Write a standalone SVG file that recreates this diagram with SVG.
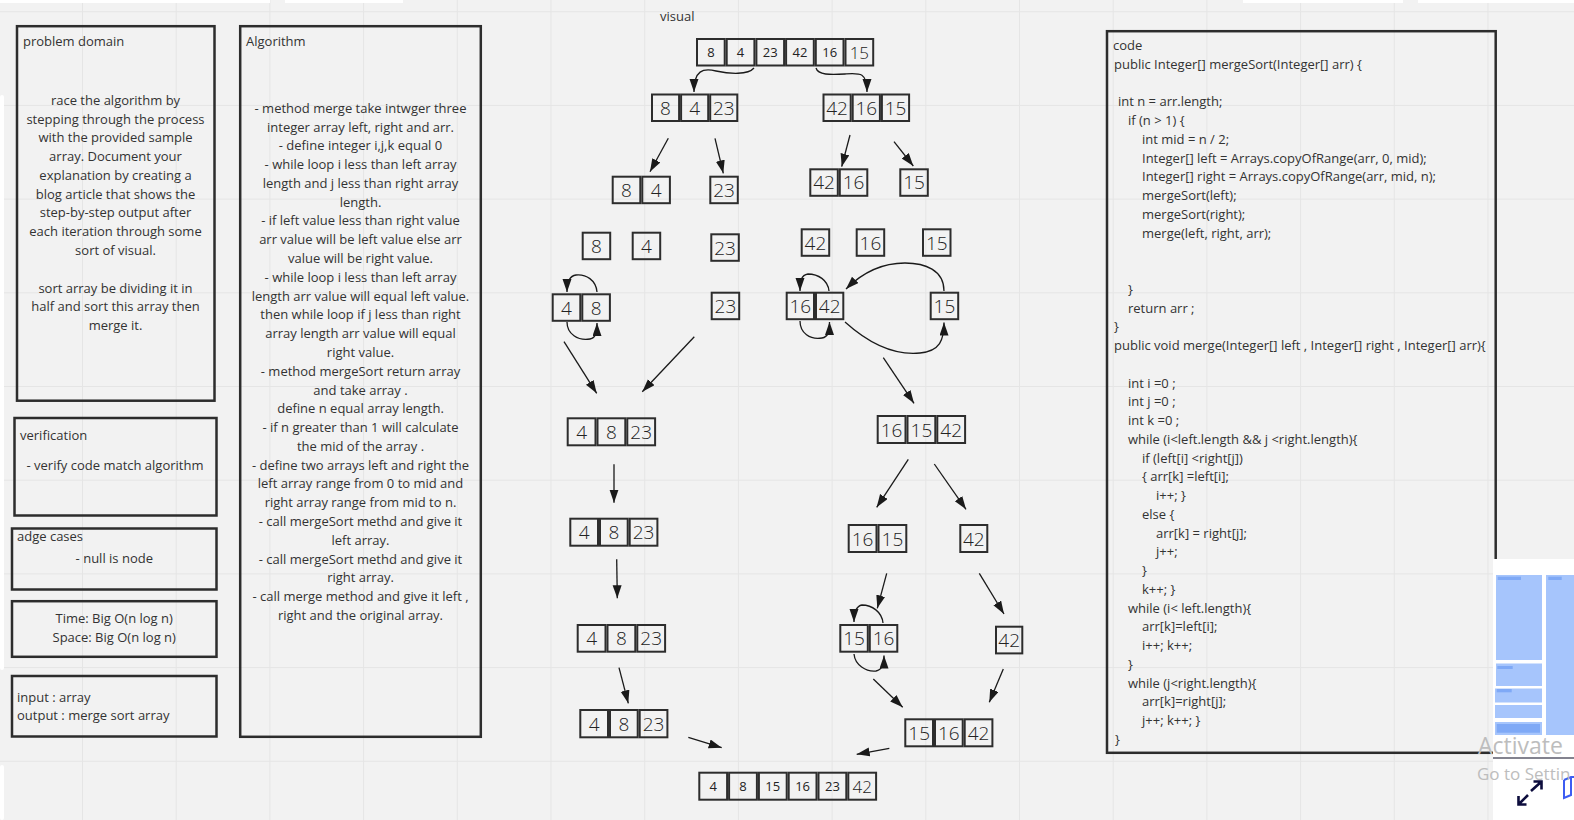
<svg xmlns="http://www.w3.org/2000/svg" width="1574" height="820" viewBox="0 0 1574 820">
<style>
.bg{fill:#f2f2f2}
.grid{fill:none;stroke:#e5e5e5;stroke-width:1}
.box{fill:none;stroke:#2d2d2d;stroke-width:2.5}
.cell{fill:none;stroke:#2d2d2d;stroke-width:2}
.t{font-family:"Open Sans","Liberation Sans",sans-serif;font-size:13px;fill:#333}
.c{text-anchor:middle}
.n{font-family:"Open Sans","Liberation Sans",sans-serif;font-size:19px;font-weight:300;fill:#222;text-anchor:middle;dominant-baseline:central}
.ns{font-size:13px;font-weight:400}
.nm{font-size:17px}
.arr{fill:none;stroke:#1a1a1a;stroke-width:1.3;marker-end:url(#ah)}
.mm{fill:#a6c5fc}
.mb{fill:#7fa9f6}
.wm{font-family:"Open Sans","Liberation Sans",sans-serif;fill:#bdbdbd}
</style>
<defs>
<marker id="ah" markerUnits="userSpaceOnUse" markerWidth="14" markerHeight="10" refX="13" refY="4.5" orient="auto">
<path d="M0,0 L13,4.5 L0,9 Z" fill="#1a1a1a"/>
</marker>
</defs>
<rect class="bg" x="0" y="0" width="1574" height="820"/>
<path class="grid" d="M82.5 0V820M176.2 0V820M269.9 0V820M363.6 0V820M457.3 0V820M551 0V820M644.7 0V820M738.4 0V820M832.1 0V820M925.8 0V820M1019.5 0V820M1113.2 0V820M1206.9 0V820M1300.6 0V820M1394.3 0V820M1488 0V820M0 11.7H1574M0 105.4H1574M0 199.1H1574M0 292.8H1574M0 386.5H1574M0 480.2H1574M0 573.9H1574M0 667.6H1574M0 761.3H1574"/>
<g id="ui-strips" fill="#ffffff">
<rect x="0" y="0" width="270" height="3"/>
<rect x="285" y="0" width="118" height="3"/>
<rect x="1243" y="0" width="160" height="3"/>
<rect x="1418" y="0" width="156" height="3"/>
<rect x="0" y="95" width="4" height="575" rx="2"/>
<rect x="0" y="765" width="4" height="55" rx="2"/>
</g>

<g id="problem-domain">
<rect class="box" x="17" y="26.2" width="197.5" height="374.5"/>
<text class="t" x="23" y="46">problem domain</text>
<text class="t c" x="115.5" y="104.8"><tspan x="115.5">race the algorithm by</tspan><tspan x="115.5" dy="18.78">stepping through the process</tspan><tspan x="115.5" dy="18.78">with the provided sample</tspan><tspan x="115.5" dy="18.78">array. Document your</tspan><tspan x="115.5" dy="18.78">explanation by creating a</tspan><tspan x="115.5" dy="18.78">blog article that shows the</tspan><tspan x="115.5" dy="18.78">step-by-step output after</tspan><tspan x="115.5" dy="18.78">each iteration through some</tspan><tspan x="115.5" dy="18.78">sort of visual.</tspan><tspan x="115.5" dy="37.56">sort array be dividing it in</tspan><tspan x="115.5" dy="18.78">half and sort this array then</tspan><tspan x="115.5" dy="18.78">merge it.</tspan></text>
</g>

<g id="algorithm">
<rect class="box" x="240.2" y="26.2" width="240.6" height="710.6"/>
<text class="t" x="246" y="46">Algorithm</text>
<text class="t c" x="360.5" y="112.8"><tspan x="360.5">- method merge take intwger three</tspan><tspan x="360.5" dy="18.78">integer array left, right and arr.</tspan><tspan x="360.5" dy="18.78">- define integer i,j,k equal 0</tspan><tspan x="360.5" dy="18.78">- while loop i less than left array</tspan><tspan x="360.5" dy="18.78">length and j less than right array</tspan><tspan x="360.5" dy="18.78">length.</tspan><tspan x="360.5" dy="18.78">- if left value less than right value</tspan><tspan x="360.5" dy="18.78">arr value will be left value else arr</tspan><tspan x="360.5" dy="18.78">value will be right value.</tspan><tspan x="360.5" dy="18.78">- while loop i less than left array</tspan><tspan x="360.5" dy="18.78">length arr value will equal left value.</tspan><tspan x="360.5" dy="18.78">then while loop if j less than right</tspan><tspan x="360.5" dy="18.78">array length arr value will equal</tspan><tspan x="360.5" dy="18.78">right value.</tspan><tspan x="360.5" dy="18.78">- method mergeSort return array</tspan><tspan x="360.5" dy="18.78">and take array .</tspan><tspan x="360.5" dy="18.78">define n equal array length.</tspan><tspan x="360.5" dy="18.78">- if n greater than 1 will calculate</tspan><tspan x="360.5" dy="18.78">the mid of the array .</tspan><tspan x="360.5" dy="18.78">- define two arrays left and right the</tspan><tspan x="360.5" dy="18.78">left array range from 0 to mid and</tspan><tspan x="360.5" dy="18.78">right array range from mid to n.</tspan><tspan x="360.5" dy="18.78">- call mergeSort methd and give it</tspan><tspan x="360.5" dy="18.78">left array.</tspan><tspan x="360.5" dy="18.78">- call mergeSort methd and give it</tspan><tspan x="360.5" dy="18.78">right array.</tspan><tspan x="360.5" dy="18.78">- call merge method and give it left ,</tspan><tspan x="360.5" dy="18.78">right and the original array.</tspan></text>
</g>

<g id="verification">
<rect class="box" x="14.5" y="418" width="202" height="97.5"/>
<text class="t" x="20" y="439.5">verification</text>
<text class="t c" x="115" y="469.5">- verify code match algorithm</text>
</g>

<g id="edge-cases">
<rect class="box" x="12" y="528.5" width="204.5" height="61"/>
<text class="t" x="17" y="541">adge cases</text>
<text class="t c" x="114.3" y="563">- null is node</text>
</g>

<g id="complexity">
<rect class="box" x="12" y="601.2" width="204.5" height="55.6"/>
<text class="t c" x="114.2" y="622.8" fill="#444"><tspan x="114.2">Time: Big O(n log n)</tspan><tspan x="114.2" dy="19">Space: Big O(n log n)</tspan></text>
</g>

<g id="input-output">
<rect class="box" x="12" y="676" width="204.5" height="60.5"/>
<text class="t" x="17" y="701.8"><tspan x="17">input : array</tspan><tspan x="17" dy="18.4">output : merge sort array</tspan></text>
</g>

<g id="code">
<rect class="box" x="1107" y="31.2" width="388.7" height="721.6"/>
<text class="t" y="50.2"><tspan x="1113">code</tspan><tspan x="1114" dy="18.75">public Integer[] mergeSort(Integer[] arr) {</tspan><tspan x="1118" dy="37.5">int n = arr.length;</tspan><tspan x="1128" dy="18.75">if (n &gt; 1) {</tspan><tspan x="1142" dy="18.75">int mid = n / 2;</tspan><tspan x="1142" dy="18.75">Integer[] left = Arrays.copyOfRange(arr, 0, mid);</tspan><tspan x="1142" dy="18.75">Integer[] right = Arrays.copyOfRange(arr, mid, n);</tspan><tspan x="1142" dy="18.75">mergeSort(left);</tspan><tspan x="1142" dy="18.75">mergeSort(right);</tspan><tspan x="1142" dy="18.75">merge(left, right, arr);</tspan><tspan x="1128" dy="56.25">}</tspan><tspan x="1128" dy="18.75">return arr ;</tspan><tspan x="1114" dy="18.75">}</tspan><tspan x="1114" dy="18.75">public void merge(Integer[] left , Integer[] right , Integer[] arr){</tspan><tspan x="1128" dy="37.5">int i =0 ;</tspan><tspan x="1128" dy="18.75">int j =0 ;</tspan><tspan x="1128" dy="18.75">int k =0 ;</tspan><tspan x="1128" dy="18.75">while (i&lt;left.length &amp;&amp; j &lt;right.length){</tspan><tspan x="1142" dy="18.75">if (left[i] &lt;right[j])</tspan><tspan x="1142" dy="18.75">{ arr[k] =left[i];</tspan><tspan x="1156" dy="18.75">i++; }</tspan><tspan x="1142" dy="18.75">else {</tspan><tspan x="1156" dy="18.75">arr[k] = right[j];</tspan><tspan x="1156" dy="18.75">j++;</tspan><tspan x="1142" dy="18.75">}</tspan><tspan x="1142" dy="18.75">k++; }</tspan><tspan x="1128" dy="18.75">while (i&lt; left.length){</tspan><tspan x="1142" dy="18.75">arr[k]=left[i];</tspan><tspan x="1142" dy="18.75">i++; k++;</tspan><tspan x="1128" dy="18.75">}</tspan><tspan x="1128" dy="18.75">while (j&lt;right.length){</tspan><tspan x="1142" dy="18.75">arr[k]=right[j];</tspan><tspan x="1142" dy="18.75">j++; k++; }</tspan><tspan x="1115" dy="18.75">}</tspan></text>
</g>

<g id="visual-label"><text class="t" x="660" y="20.5">visual</text></g>

<g id="arr-top" transform="translate(696,38)">
<rect class="cell" x="1" y="1" width="27.7" height="26.5"/><rect class="cell" x="30.7" y="1" width="27.7" height="26.5"/><rect class="cell" x="60.4" y="1" width="27.7" height="26.5"/><rect class="cell" x="90.1" y="1" width="27.7" height="26.5"/><rect class="cell" x="119.8" y="1" width="27.7" height="26.5"/><rect class="cell" x="149.5" y="1" width="27.7" height="26.5"/>
<text class="n ns" x="14.85" y="14.2">8</text><text class="n ns" x="44.55" y="14.2">4</text><text class="n ns" x="74.25" y="14.2">23</text><text class="n ns" x="103.95" y="14.2">42</text><text class="n ns" x="133.65" y="14.2">16</text><text class="n nm" x="163.35" y="14.2">15</text>
</g>

<g id="arr-l1" transform="translate(651,93.5)">
<rect class="cell" x="1" y="1" width="27.1" height="26.5"/><rect class="cell" x="30.1" y="1" width="27.1" height="26.5"/><rect class="cell" x="59.2" y="1" width="27.1" height="26.5"/>
<text class="n" x="14.55" y="14.25">8</text><text class="n" x="43.65" y="14.25">4</text><text class="n" x="72.75" y="14.25">23</text>
</g>
<g id="arr-r1" transform="translate(822.5,93.5)">
<rect class="cell" x="1" y="1" width="27.2" height="26.5"/><rect class="cell" x="30.2" y="1" width="27.2" height="26.5"/><rect class="cell" x="59.4" y="1" width="27.2" height="26.5"/>
<text class="n" x="14.6" y="14.25">42</text><text class="n" x="43.8" y="14.25">16</text><text class="n" x="73" y="14.25">15</text>
</g>

<g id="arr-l2a" transform="translate(611.7,175.7)">
<rect class="cell" x="1" y="1" width="27.6" height="26.5"/><rect class="cell" x="30.6" y="1" width="27.6" height="26.5"/>
<text class="n" x="14.8" y="14.3">8</text><text class="n" x="44.4" y="14.3">4</text>
</g>
<g id="arr-l2b" transform="translate(709.3,175.7)">
<rect class="cell" x="1" y="1" width="27.5" height="26.5"/><text class="n" x="14.75" y="14.3">23</text>
</g>
<g id="arr-r2a" transform="translate(809.3,168.3)">
<rect class="cell" x="1" y="1" width="27.5" height="26.5"/><rect class="cell" x="30.5" y="1" width="27.5" height="26.5"/>
<text class="n" x="14.75" y="14.2">42</text><text class="n" x="44.25" y="14.2">16</text>
</g>
<g id="arr-r2b" transform="translate(899.3,168.3)">
<rect class="cell" x="1" y="1" width="27.5" height="26.5"/><text class="n" x="14.75" y="14.2">15</text>
</g>

<g id="leaf-8" transform="translate(581.7,231.7)"><rect class="cell" x="1" y="1" width="27.5" height="26.5"/><text class="n" x="14.75" y="14.3">8</text></g>
<g id="leaf-4" transform="translate(631.7,231.7)"><rect class="cell" x="1" y="1" width="27.5" height="26.5"/><text class="n" x="14.75" y="14.3">4</text></g>
<g id="leaf-23" transform="translate(710.3,233.3)"><rect class="cell" x="1" y="1" width="27.5" height="26.5"/><text class="n" x="14.75" y="14.3">23</text></g>
<g id="leaf-42" transform="translate(800.7,228.3)"><rect class="cell" x="1" y="1" width="27.5" height="26.5"/><text class="n" x="14.75" y="14.3">42</text></g>
<g id="leaf-16" transform="translate(855.7,228.3)"><rect class="cell" x="1" y="1" width="27.5" height="26.5"/><text class="n" x="14.75" y="14.3">16</text></g>
<g id="leaf-15" transform="translate(922,228.3)"><rect class="cell" x="1" y="1" width="27.5" height="26.5"/><text class="n" x="14.75" y="14.3">15</text></g>

<g id="m-48" transform="translate(551.7,293.3)">
<rect class="cell" x="1" y="1" width="27.6" height="26.5"/><rect class="cell" x="30.6" y="1" width="27.6" height="26.5"/>
<text class="n" x="14.8" y="14.3">4</text><text class="n" x="44.4" y="14.3">8</text>
</g>
<g id="m-23" transform="translate(710.7,291.7)"><rect class="cell" x="1" y="1" width="27.5" height="26.5"/><text class="n" x="14.75" y="14.3">23</text></g>
<g id="m-1642" transform="translate(785.7,291.7)">
<rect class="cell" x="1" y="1" width="27.3" height="26.5"/><rect class="cell" x="30.3" y="1" width="27.3" height="26.5"/>
<text class="n" x="14.65" y="14.3">16</text><text class="n" x="43.95" y="14.3">42</text>
</g>
<g id="m-15" transform="translate(929.7,291.7)"><rect class="cell" x="1" y="1" width="27.5" height="26.5"/><text class="n" x="14.75" y="14.3">15</text></g>

<g id="l-4823a" transform="translate(566.7,417.3)">
<rect class="cell" x="1" y="1" width="27.8" height="27"/><rect class="cell" x="30.8" y="1" width="27.8" height="27"/><rect class="cell" x="60.6" y="1" width="27.8" height="27"/>
<text class="n" x="14.9" y="14.5">4</text><text class="n" x="44.7" y="14.5">8</text><text class="n" x="74.5" y="14.5">23</text>
</g>
<g id="r-161542" transform="translate(876.7,415)">
<rect class="cell" x="1" y="1" width="27.8" height="27"/><rect class="cell" x="30.8" y="1" width="27.8" height="27"/><rect class="cell" x="60.6" y="1" width="27.8" height="27"/>
<text class="n" x="14.9" y="14.5">16</text><text class="n" x="44.7" y="14.5">15</text><text class="n" x="74.5" y="14.5">42</text>
</g>

<g id="l-4823b" transform="translate(569.3,517.7)">
<rect class="cell" x="1" y="1" width="27.7" height="27"/><rect class="cell" x="30.7" y="1" width="27.7" height="27"/><rect class="cell" x="60.4" y="1" width="27.7" height="27"/>
<text class="n" x="14.85" y="14.5">4</text><text class="n" x="44.55" y="14.5">8</text><text class="n" x="74.25" y="14.5">23</text>
</g>
<g id="r-1615" transform="translate(847.7,524)">
<rect class="cell" x="1" y="1" width="27.8" height="27"/><rect class="cell" x="30.8" y="1" width="27.8" height="27"/>
<text class="n" x="14.9" y="14.5">16</text><text class="n" x="44.7" y="14.5">15</text>
</g>
<g id="r-42a" transform="translate(959.3,524)"><rect class="cell" x="1" y="1" width="27" height="27"/><text class="n" x="14.5" y="14.5">42</text></g>

<g id="l-4823c" transform="translate(576.7,624)">
<rect class="cell" x="1" y="1" width="27.8" height="26.7"/><rect class="cell" x="30.8" y="1" width="27.8" height="26.7"/><rect class="cell" x="60.6" y="1" width="27.8" height="26.7"/>
<text class="n" x="14.9" y="14.4">4</text><text class="n" x="44.7" y="14.4">8</text><text class="n" x="74.5" y="14.4">23</text>
</g>
<g id="r-1516" transform="translate(839.3,624)">
<rect class="cell" x="1" y="1" width="27.5" height="26.7"/><rect class="cell" x="30.5" y="1" width="27.5" height="26.7"/>
<text class="n" x="14.75" y="14.4">15</text><text class="n" x="44.25" y="14.4">16</text>
</g>
<g id="r-42b" transform="translate(995,625.7)"><rect class="cell" x="1" y="1" width="26.3" height="26.7"/><text class="n" x="14.15" y="14.4">42</text></g>

<g id="l-4823d" transform="translate(579.3,709)">
<rect class="cell" x="1" y="1" width="27.7" height="27.3"/><rect class="cell" x="30.7" y="1" width="27.7" height="27.3"/><rect class="cell" x="60.4" y="1" width="27.7" height="27.3"/>
<text class="n" x="14.85" y="14.6">4</text><text class="n" x="44.55" y="14.6">8</text><text class="n" x="74.25" y="14.6">23</text>
</g>
<g id="r-151642" transform="translate(904.3,718.3)">
<rect class="cell" x="1" y="1" width="27.7" height="27"/><rect class="cell" x="30.7" y="1" width="27.7" height="27"/><rect class="cell" x="60.4" y="1" width="27.7" height="27"/>
<text class="n" x="14.85" y="14.5">15</text><text class="n" x="44.55" y="14.5">16</text><text class="n" x="74.25" y="14.5">42</text>
</g>

<g id="arr-final" transform="translate(698.3,771.7)">
<rect class="cell" x="1" y="1" width="27.8" height="27"/><rect class="cell" x="30.8" y="1" width="27.8" height="27"/><rect class="cell" x="60.6" y="1" width="27.8" height="27"/><rect class="cell" x="90.4" y="1" width="27.8" height="27"/><rect class="cell" x="120.2" y="1" width="27.8" height="27"/><rect class="cell" x="150" y="1" width="27.8" height="27"/>
<text class="n ns" x="14.9" y="14.5">4</text><text class="n ns" x="44.7" y="14.5">8</text><text class="n ns" x="74.5" y="14.5">15</text><text class="n ns" x="104.3" y="14.5">16</text><text class="n ns" x="134.1" y="14.5">23</text><text class="n nm" x="163.9" y="14.5">42</text>
</g>

<g id="connectors">
<path class="arr" d="M754 68 C748 75,730 74,716 71 C703 68,694 70,694 92"/>
<path class="arr" d="M816 68 C818 75,830 75,845 74 C860 73,867 72,867 92"/>
<path class="arr" d="M668.3 138.3 L650 171.7"/>
<path class="arr" d="M715 138.3 L723.3 173.3"/>
<path class="arr" d="M850 135 L841.7 166.7"/>
<path class="arr" d="M894 141.7 L913.3 166"/>
<path class="arr" d="M597 292 C596 280,586 274,576 275 C569 276,567 282,567 292"/>
<path class="arr" d="M567 322 C567 334,578 341,590 339 C596 338,597 332,597 323"/>
<path class="arr" d="M829 291 C828 280,818 274,808 274 C801 275,800 281,800 291"/>
<path class="arr" d="M800 321 C800 333,810 340,822 338 C828 337,829.5 332,829.5 322"/>
<path class="arr" d="M944 291 C944 270,925 263,905 263 C880 263,860 275,846 289"/>
<path class="arr" d="M845 322 C865 340,890 356,920 353 C940 351,944 340,944 322.5"/>
<path class="arr" d="M564 341.7 L596.7 393.3"/>
<path class="arr" d="M694.3 336.7 L642.3 391.7"/>
<path class="arr" d="M883.3 357.7 L914 403.3"/>
<path class="arr" d="M614 464.3 L614 502.7"/>
<path class="arr" d="M908.3 459.3 L876.7 507.3"/>
<path class="arr" d="M934.3 464 L966 509.3"/>
<path class="arr" d="M616.7 559.3 L617.3 598.3"/>
<path class="arr" d="M886.7 573.3 L877.3 608.3"/>
<path class="arr" d="M979.3 573.3 L1004 614"/>
<path class="arr" d="M883 623 C882 612,872 605,862 605 C856 606,854 612,854 622"/>
<path class="arr" d="M854 654 C855 665,866 672,876 671 C882 670,884 665,884 655.5"/>
<path class="arr" d="M619 667.7 L628.3 703.3"/>
<path class="arr" d="M873.3 679 L902.7 707.3"/>
<path class="arr" d="M1003.3 669 L989.3 702.3"/>
<path class="arr" d="M688.3 737.3 L721.7 747.7"/>
<path class="arr" d="M889.3 748.3 L856.7 754.3"/>
</g>

<g id="minimap">
<rect x="1493" y="559" width="81" height="261" fill="#ffffff"/>
<rect class="mm" x="1496" y="575" width="46" height="85"/>
<rect class="mm" x="1546" y="575" width="28" height="160"/>
<rect class="mm" x="1496" y="663.5" width="46" height="22.5"/>
<rect class="mm" x="1495" y="688.5" width="47" height="14"/>
<rect class="mm" x="1495" y="705" width="47" height="13"/>
<rect class="mm" x="1495" y="722" width="47" height="13"/>
<rect class="mb" x="1497.7" y="576.7" width="23.3" height="3.3"/>
<rect class="mb" x="1548.3" y="576.7" width="13.4" height="3.3"/>
<rect class="mb" x="1497.3" y="666" width="15.4" height="3"/>
<rect class="mb" x="1496.7" y="689" width="15" height="3.3"/>
<rect class="mb" x="1496.7" y="724" width="43.3" height="8.7"/>
<line x1="1493" y1="758" x2="1574" y2="758" stroke="#5a5a6a" stroke-width="1.5"/>
<path d="M1531 791 L1541 782 M1533.5 781.5 H1541.5 V789.5" fill="none" stroke="#0d0d3d" stroke-width="2.6"/>
<path d="M1528 795 L1519 804 M1518.5 796 V804.5 H1526.5" fill="none" stroke="#0d0d3d" stroke-width="2.6"/>
<path d="M1564 780 L1571 777 H1574 M1564 780 V798 L1571 795 V777" fill="none" stroke="#3d5cf2" stroke-width="2"/>
</g>
<g id="watermark">
<text class="wm" x="1478" y="754" font-size="23">Activate</text>
<text class="wm" x="1477" y="780" font-size="17">Go to Settin</text>
</g>
</svg>
